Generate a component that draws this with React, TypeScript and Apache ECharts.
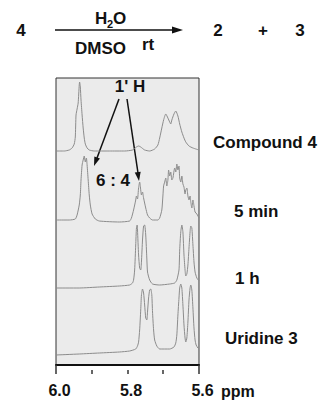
import React, { useEffect, useRef } from "react";
import * as echarts from "echarts";

// chemical shift (ppm) vs. relative intensity
const compound4: [number, number][] = [
  [6.0, 0], [5.977, 0], [5.963, 1], [5.955, 3], [5.949, 7], [5.946, 14], [5.944, 36], [5.941, 42],
  [5.938, 48], [5.935, 66], [5.934, 69], [5.932, 64], [5.93, 51], [5.927, 36], [5.924, 23], [5.921, 13],
  [5.918, 7], [5.913, 3], [5.907, 1], [5.893, 0], [5.851, 0], [5.808, 0], [5.786, 1], [5.775, 4],
  [5.769, 5], [5.763, 4], [5.752, 1], [5.738, 0], [5.724, 2], [5.715, 6], [5.71, 13], [5.704, 23],
  [5.699, 31], [5.693, 37], [5.687, 33], [5.682, 29], [5.679, 27], [5.676, 31], [5.67, 37], [5.665, 40],
  [5.659, 35], [5.654, 27], [5.648, 19], [5.642, 13], [5.637, 9], [5.628, 5], [5.617, 3], [5.6, 1],
];
const min5: [number, number][] = [
  [6.0, 0], [5.963, 0], [5.946, 1], [5.941, 5], [5.935, 15], [5.932, 25], [5.93, 40], [5.927, 55],
  [5.924, 60], [5.921, 64], [5.918, 58], [5.915, 62], [5.913, 55], [5.91, 40], [5.907, 25], [5.904, 15],
  [5.899, 6], [5.89, 1], [5.879, -1], [5.823, -2], [5.794, -1], [5.789, 2], [5.783, 10], [5.777, 20],
  [5.775, 24], [5.772, 21], [5.769, 32], [5.766, 38], [5.763, 30], [5.761, 25], [5.758, 28], [5.755, 22],
  [5.749, 12], [5.744, 5], [5.738, 2], [5.73, 0], [5.715, 0], [5.71, 2], [5.704, 10], [5.701, 24],
  [5.699, 34], [5.696, 38], [5.693, 42], [5.69, 34], [5.687, 40], [5.685, 50], [5.682, 44], [5.679, 48],
  [5.676, 40], [5.673, 42], [5.668, 52], [5.665, 48], [5.662, 56], [5.659, 50], [5.656, 54], [5.654, 42],
  [5.651, 38], [5.648, 44], [5.645, 36], [5.642, 33], [5.639, 26], [5.637, 30], [5.634, 32], [5.631, 24],
  [5.628, 20], [5.625, 24], [5.623, 18], [5.62, 12], [5.617, 20], [5.614, 14], [5.611, 8], [5.606, 6], [5.6, 2],
];
const hour1: [number, number][] = [
  [6.0, 0], [5.935, 0], [5.879, 1], [5.823, 2], [5.794, 3], [5.786, 5], [5.783, 8], [5.78, 18],
  [5.777, 43], [5.775, 60], [5.773, 63], [5.772, 58], [5.769, 33], [5.766, 20], [5.763, 18], [5.761, 26],
  [5.758, 48], [5.755, 62], [5.752, 63], [5.749, 53], [5.746, 30], [5.744, 16], [5.738, 8], [5.73, 4],
  [5.71, 3], [5.682, 4], [5.668, 5], [5.662, 8], [5.656, 18], [5.654, 38], [5.651, 56], [5.648, 63],
  [5.645, 56], [5.642, 33], [5.639, 18], [5.637, 12], [5.634, 14], [5.631, 23], [5.628, 40], [5.625, 56],
  [5.623, 62], [5.62, 60], [5.617, 43], [5.614, 26], [5.611, 16], [5.606, 10], [5.6, 7],
];
const uridine3: [number, number][] = [
  [6.0, 0], [5.935, 1], [5.879, 2], [5.823, 3], [5.794, 4], [5.777, 6], [5.772, 9], [5.769, 13],
  [5.766, 25], [5.763, 45], [5.761, 60], [5.758, 66], [5.755, 62], [5.752, 50], [5.749, 37], [5.746, 35],
  [5.744, 43], [5.741, 57], [5.738, 65], [5.735, 66], [5.732, 60], [5.73, 43], [5.727, 25], [5.724, 15],
  [5.718, 9], [5.71, 6], [5.682, 6], [5.67, 8], [5.665, 12], [5.662, 20], [5.659, 40], [5.656, 57],
  [5.654, 67], [5.651, 71], [5.648, 67], [5.645, 50], [5.642, 30], [5.639, 17], [5.637, 13], [5.634, 17],
  [5.631, 33], [5.628, 55], [5.625, 67], [5.623, 70], [5.62, 65], [5.617, 47], [5.614, 27], [5.611, 15],
  [5.608, 10], [5.603, 7], [5.6, 6],
];

const traces = [compound4, min5, hour1, uridine3];
const traceNames = ["Compound 4", "5 min", "1 h", "Uridine 3"];
const traceOffsets = [214, 145, 77, 10];
const tickLabels = [5.6, 5.8, 6.0];
const longTicks = [5.6, 6.0];
const shortTicks = [5.7, 5.8, 5.9];

const FONT = '"Liberation Sans", Arial, Helvetica, sans-serif';
const INK = "#111";

function txt(text: string, x: number, y: number, size = 17, align = "left") {
  return {
    type: "text",
    x,
    y,
    silent: true,
    style: {
      text,
      fill: INK,
      fontSize: size,
      fontWeight: "bold",
      fontFamily: FONT,
      align,
      verticalAlign: "middle",
      textAlign: align,
      textVerticalAlign: "middle",
    },
  };
}

function arrowLine(x1: number, y1: number, x2: number, y2: number) {
  return {
    type: "line",
    silent: true,
    shape: { x1, y1, x2, y2 },
    style: { stroke: INK, lineWidth: 1.5 },
  };
}

function arrowHead(points: number[][]) {
  return { type: "polygon", silent: true, shape: { points }, style: { fill: INK } };
}

export default function App() {
  const ref = useRef<HTMLDivElement>(null);
  useEffect(() => {
    document.body.style.margin = "0";
    const chart = echarts.init(ref.current!, null, { renderer: "svg" });
    const axisBase = {
      type: "value",
      min: 5.6,
      max: 6.0,
      inverse: true,
      splitLine: { show: false },
    };
    chart.setOption({
      animation: false,
      grid: {
        left: 56,
        right: 126,
        top: 78,
        bottom: 35,
        show: true,
        backgroundColor: "#ebebeb",
        borderColor: "#333",
        borderWidth: 1,
      },
      xAxis: [
        {
          ...axisBase,
          position: "bottom",
          axisLine: { lineStyle: { color: INK, width: 2 } },
          axisTick: { customValues: longTicks, length: 9, lineStyle: { color: "#333", width: 1.5 } },
          axisLabel: {
            customValues: tickLabels,
            formatter: (v: number) => v.toFixed(1),
            fontSize: 16,
            fontWeight: "bold",
            fontFamily: FONT,
            color: INK,
            margin: 17,
            padding: [0, 0, 0, 7],
          },
        },
        {
          ...axisBase,
          position: "bottom",
          offset: 5,
          axisLine: { show: false },
          axisTick: { customValues: shortTicks, length: 4, lineStyle: { color: "#333", width: 1.5 } },
          axisLabel: { show: false },
        },
      ],
      yAxis: {
        type: "value",
        min: 0,
        max: 287,
        show: false,
        splitLine: { show: false },
      },
      series: traces.map((t, i) => ({
        name: traceNames[i],
        type: "line",
        xAxisIndex: 0,
        data: t.map(([x, v]) => [x, v + traceOffsets[i]]),
        showSymbol: false,
        symbol: "none",
        smooth: 0.2,
        silent: true,
        lineStyle: { color: "#8c8c8c", width: 1 },
      })),
      graphic: [
        // reaction scheme
        txt("4", 21, 30, 17, "center"),
        arrowLine(55, 30, 176, 30),
        arrowHead([[183, 30], [172, 26.5], [172, 33.5]]),
        txt("H", 95, 18, 17),
        txt("2", 107, 24, 11),
        txt("O", 113, 18, 17),
        txt("DMSO", 75, 48, 17),
        txt("rt", 142, 44, 17),
        txt("2", 218, 30, 17, "center"),
        txt("+", 263, 30, 17, "center"),
        txt("3", 300, 30, 17, "center"),
        // annotations
        txt("1' H", 130, 86, 17, "center"),
        arrowLine(119, 99, 97, 158),
        arrowHead([[94, 166], [99.96, 158.62], [94.34, 156.52]]),
        arrowLine(127, 99, 138, 173),
        arrowHead([[139, 181], [140.67, 171.67], [134.73, 172.53]]),
        txt("6 : 4", 113, 180, 17, "center"),
        // trace labels
        txt(traceNames[0], 213, 142, 17),
        txt(traceNames[1], 234, 211, 17),
        txt(traceNames[2], 235, 278, 17),
        txt(traceNames[3], 225, 338, 17),
        txt("ppm", 221, 391, 16),
      ],
    });
    return () => chart.dispose();
  }, []);
  return <div ref={ref} style={{ width: 325, height: 400 }} />;
}
